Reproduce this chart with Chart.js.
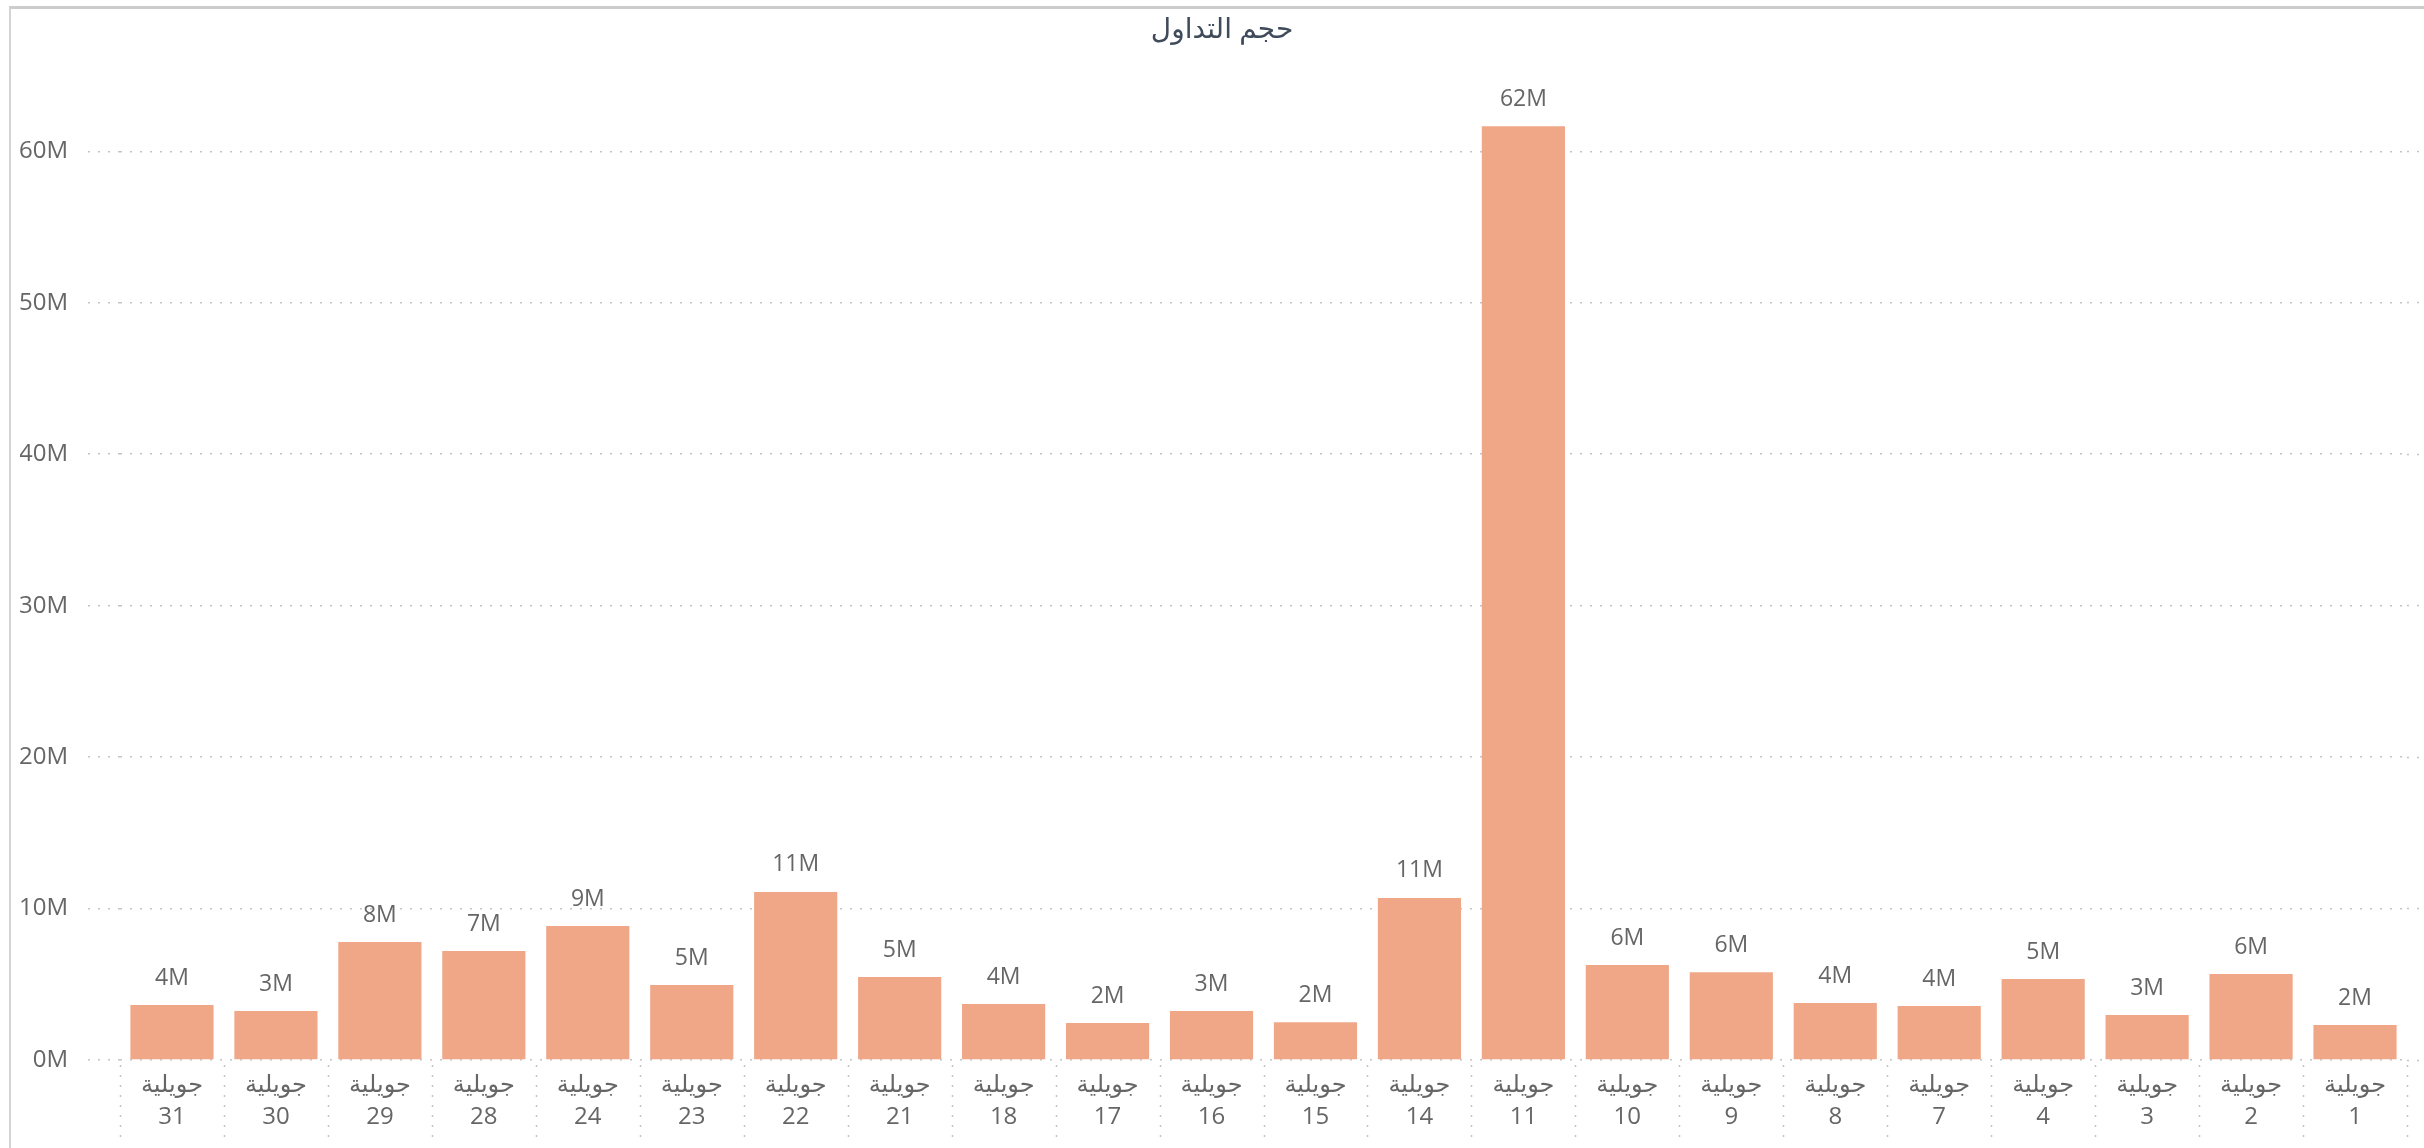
<!DOCTYPE html>
<html>
<head>
<meta charset="utf-8">
<script src="https://cdn.jsdelivr.net/npm/chart.js@4/dist/chart.umd.min.js"></script>
<style>
    body { margin: 0; background: #fff; overflow: hidden; }
    #frame {
        position: absolute;
        left: 9px; top: 6px;
        width: 2413px; height: 1139px;
        border-left: 2px solid #d4d4d4;
        border-top: 3px solid #cccccc;
    }
    canvas { display: block; }
</style>
</head>
<body>
<div id="frame"><canvas id="volumeChart" width="2413" height="1139"></canvas></div>
<script>
// Trading volume by day (July), left to right as shown
const days = ['31', '30', '29', '28', '24', '23', '22', '21', '18', '17', '16', '15', '14', '11', '10', '9', '8', '7', '4', '3', '2', '1'];
const monthName = 'جويلية';
const volumes = [3630000, 3230000, 7790000, 7200000, 8850000, 4950000, 11100000, 5480000, 3700000, 2440000, 3230000,
                 2490000, 10700000, 61650000, 6270000, 5800000, 3760000, 3560000, 5350000, 2970000, 5680000, 2310000];
const yTicks = [0, 10000000, 20000000, 30000000, 40000000, 50000000, 60000000];
const yMax = 65000000;

const fontFamily = "'Segoe UI', 'Open Sans', 'DejaVu Sans', sans-serif";
const dotted = [2, 8];
const gridColor = '#c4c4c4';

// Value labels above each bar
const barLabels = {
    id: 'barLabels',
    afterDatasetsDraw(chart) {
        const ctx = chart.ctx;
        const meta = chart.getDatasetMeta(0);
        ctx.save();
        ctx.font = '23px ' + fontFamily;
        ctx.fillStyle = '#666666';
        ctx.textAlign = 'center';
        ctx.textBaseline = 'middle';
        meta.data.forEach((bar, i) => {
            ctx.fillText(Math.round(volumes[i] / 1000000) + 'M', bar.x, bar.y - 27);
        });
        ctx.restore();
    }
};

// Dotted separators between the category labels under the axis
const categorySeparators = {
    id: 'categorySeparators',
    beforeDatasetsDraw(chart) {
        const x = chart.scales.x;
        const ctx = chart.ctx;
        const half = (x.getPixelForValue(1) - x.getPixelForValue(0)) / 2;
        const top = chart.chartArea.bottom + 5;
        ctx.save();
        ctx.strokeStyle = gridColor;
        ctx.lineWidth = 1.5;
        ctx.setLineDash(dotted);
        for (let i = 0; i <= days.length; i++) {
            const px = Math.round(x.getPixelForValue(i) - half) + 0.5;
            ctx.beginPath();
            ctx.moveTo(px, top);
            ctx.lineTo(px, top + 74);
            ctx.stroke();
        }
        ctx.restore();
    }
};

function setTicks(scale) {
    scale.ticks = yTicks.map(v => ({ value: v }));
}

const ctx = document.getElementById('volumeChart').getContext('2d');
new Chart(ctx, {
    type: 'bar',
    data: {
        labels: days.map(d => [monthName, d]),
        datasets: [{
            data: volumes,
            backgroundColor: '#f0a787',
            categoryPercentage: 0.8,
            barPercentage: 1.0
        }]
    },
    options: {
        responsive: false,
        animation: false,
        layout: { padding: { left: 9, right: 0, top: 0, bottom: 0 } },
        plugins: {
            legend: { display: false },
            tooltip: { enabled: false },
            title: {
                display: true,
                text: 'حجم التداول',
                color: '#3f4a5a',
                font: { family: fontFamily, size: 28, weight: 'normal' },
                padding: { top: 4, bottom: 29 }
            }
        },
        scales: {
            x: {
                afterFit(scale) { scale.height = 88; },
                grid: { display: false },
                border: { display: false },
                ticks: {
                    color: '#666666',
                    padding: 1,
                    font: { family: fontFamily, size: 24, lineHeight: 1.33 },
                    maxRotation: 0,
                    autoSkip: false
                }
            },
            y: {
                min: 0,
                max: yMax,
                afterBuildTicks: setTicks,
                afterFit(scale) { scale.width = 100; },
                grid: {
                    color: gridColor,
                    lineWidth: 1.5,
                    tickLength: 32,
                    tickColor: gridColor,
                    tickWidth: 1.5,
                    tickBorderDash: dotted
                },
                border: { display: false, dash: dotted },
                ticks: {
                    padding: 20,
                    color: '#666666',
                    font: { family: fontFamily, size: 24 },
                    callback: v => Math.round(v / 1000000) + 'M'
                }
            },
            yRight: {
                position: 'right',
                min: 0,
                max: yMax,
                afterBuildTicks: setTicks,
                afterFit(scale) { scale.width = 17; },
                grid: {
                    drawOnChartArea: false,
                    tickLength: 17,
                    tickColor: gridColor,
                    tickWidth: 1.5,
                    tickBorderDash: dotted
                },
                border: { display: false },
                ticks: { display: false }
            }
        }
    },
    plugins: [categorySeparators, barLabels]
});
</script>
</body>
</html>
